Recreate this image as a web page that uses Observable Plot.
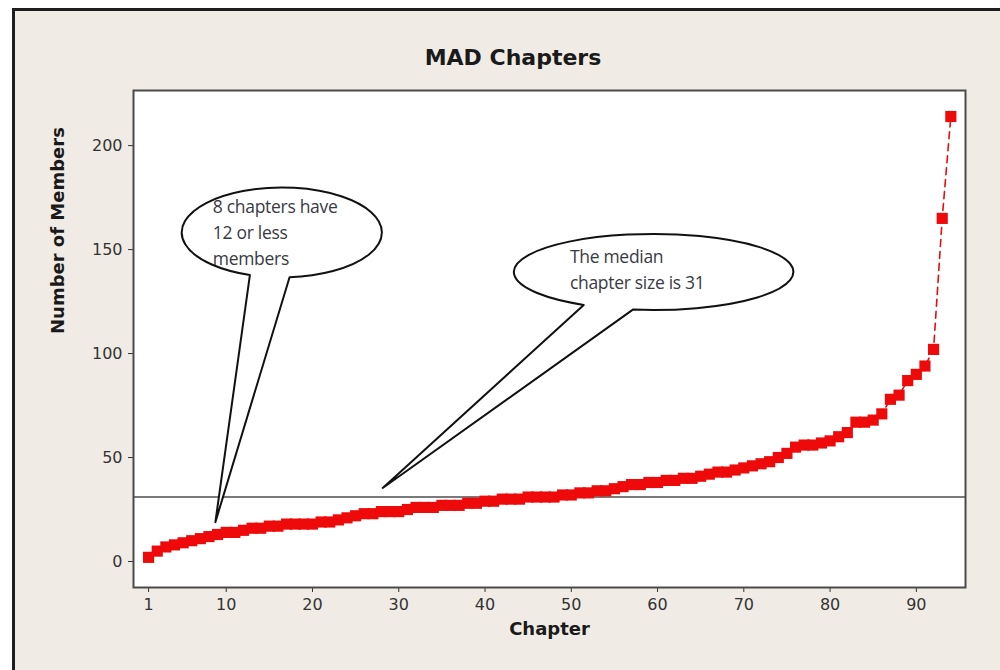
<!DOCTYPE html>
<html><head><meta charset="utf-8">
<script src="https://cdn.jsdelivr.net/npm/d3@7"></script>
<script src="https://cdn.jsdelivr.net/npm/@observablehq/plot@0.6"></script>
<style>
body{margin:0;background:#fff;width:1000px;height:670px;overflow:hidden;position:relative;font-family:"DejaVu Sans",sans-serif}
#panel{position:absolute;left:12px;top:8px;width:1000px;height:680px;background:#f0ece5;border-left:3px solid #1e1e1e;border-top:3px solid #1e1e1e}
#chart{position:absolute;left:0;top:0}
#title{position:absolute;left:0;width:1026px;top:45px;text-align:center;font:bold 22px "DejaVu Sans",sans-serif;color:#1a1a1a}
</style></head><body>
<div id="panel"></div>
<div id="chart"></div>
<div id="title">MAD Chapters</div>
<script>
// Number of members per chapter, sorted ascending (chapter = position 1..94)
const members = [2,5,7,8,9,10,11,12,13,14,
  14,15,16,16,17,17,18,18,18,18,
  19,19,20,21,22,23,23,24,24,24,
  25,26,26,26,27,27,27,28,28,29,
  29,30,30,30,31,31,31,31,32,32,
  33,33,34,34,35,36,37,37,38,38,
  39,39,40,40,41,42,43,43,44,45,
  46,47,48,50,52,55,56,56,57,58,
  60,62,67,67,68,71,78,80,87,90,
  94,102,165,214];
const xTicks = [1,10,20,30,40,50,60,70,80,90];
const yTicks = [0,50,100,150,200];
const xLabel = "Chapter";
const yLabel = "Number of Members";
const calloutTexts = [
  ["8 chapters have","12 or less","members"],
  ["The median","chapter size is 31"]
];
// callout geometry in data units (chapter, members)
const calloutCenters = [[16.5,158],[59.6,139]];
const calloutRadii = [[11.6,21.6],[16.2,18.3]];
const calloutBases = [[12.8,17.4],[51.5,57.2]];
const calloutTips = [[8.8,18.7],[28.2,35.1]];
const calloutTextAt = [[8.5,157.7],[49.9,140.1]];

const red = "#ee0a0a";
const data = members.map((m,i)=>({chapter:i+1, members:m}));
const median = d3.median(members);

const chart = Plot.plot({
  width:1000, height:670,
  marginLeft:133, marginRight:35, marginTop:90, marginBottom:83,
  style:{background:"transparent", fontFamily:"'DejaVu Sans', sans-serif", fontSize:"16px", color:"#333"},
  x:{domain:[-0.75,95.7]},
  y:{domain:[-12.5,226.5]},
  marks:[
    Plot.frame({fill:"white"}),
    Plot.ruleY([median],{stroke:"#7a7a7a", strokeWidth:2}),
    Plot.line(data,{x:"chapter", y:"members", stroke:red, strokeWidth:1.6, strokeDasharray:"7,5"}),
    Plot.dot(data,{x:"chapter", y:"members", symbol:"square", r:6.3, fill:red}),
    Plot.axisX({ticks:xTicks, tickSize:5, tickPadding:6, label:null}),
    Plot.axisY({ticks:yTicks, tickSize:5, tickPadding:6, label:null}),
    Plot.text([xLabel],{frameAnchor:"bottom", dy:47, fontWeight:"bold", fontSize:18, fill:"#1a1a1a"}),
    Plot.text([yLabel],{frameAnchor:"left", dx:-75, dy:-5, rotate:-90, fontWeight:"bold", fontSize:18, fill:"#1a1a1a"}),
    Plot.frame({stroke:"#4a4a4a", strokeWidth:2})
  ]
});
document.getElementById("chart").appendChild(chart);

const sx = chart.scale("x"), sy = chart.scale("y");
const X = v => sx.apply(v), Y = v => sy.apply(v);
const g = d3.select(chart).append("g");
calloutTexts.forEach((lines, k) => {
  const cx = X(calloutCenters[k][0]), cy = Y(calloutCenters[k][1]);
  const rx = X(calloutCenters[k][0] + calloutRadii[k][0]) - cx;
  const ry = Y(calloutCenters[k][1] - calloutRadii[k][1]) - cy;
  const [A,B] = calloutBases[k].map(b => {
    const px = X(b);
    const t = Math.acos(Math.max(-1, Math.min(1, (px - cx) / rx)));
    return [px, cy + ry * Math.sin(t)];
  });
  const tip = [X(calloutTips[k][0]), Y(calloutTips[k][1])];
  g.append("path")
    .attr("d", `M${tip}L${A}A${rx},${ry} 0 1 1 ${B}Z`)
    .attr("fill","white").attr("stroke","#111").attr("stroke-width",2).attr("stroke-linejoin","round");
  const tx = X(calloutTextAt[k][0]), ty = Y(calloutTextAt[k][1]);
  const lh = 26;
  const t = g.append("text").attr("text-anchor","start")
    .attr("font-family","'Open Sans', sans-serif").attr("font-size",17.5).attr("letter-spacing",-0.3).attr("fill","#3a3a44");
  lines.forEach((s,i) => {
    t.append("tspan").attr("x",tx).attr("y", ty + (i - (lines.length-1)/2)*lh).attr("dy","0.35em").text(s);
  });
});
</script>
</body></html>
